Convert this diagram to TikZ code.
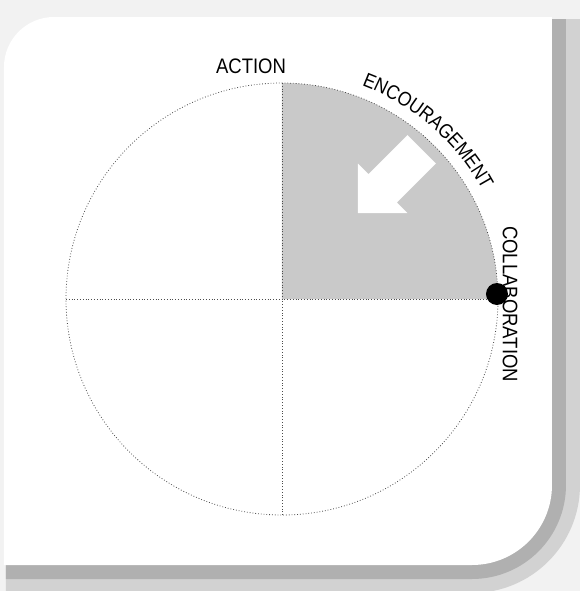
\documentclass[tikz,border=0pt]{standalone}
\usepackage{fontspec}
\setmainfont{Liberation Sans}[FakeStretch=0.88]
\usetikzlibrary{decorations.text}
\begin{document}
\begin{tikzpicture}[x=0.5pt, y=0.5pt,
  font=\fontsize{10.5}{12}\selectfont,
  guide/.style={black!70, line width=0.4pt, densely dotted},
  word/.style={inner sep=0pt, text=black}]
  \useasboundingbox (-282,-292) rectangle (298,299);
  \fill[gray!10] (-282,-292) rectangle (298,299);
  \foreach \d/\col in {28/gray!35, 14/gray!62}
    \fill[\col] (-276,-266-\d) -- (-276,230) arc[start angle=180, end angle=90, radius=50]
      -- (270+\d,280) -- (270+\d,-186) arc[start angle=0, end angle=-90, radius=80+\d] -- cycle;
  \fill[white] (-278,-266) -- (-278,232)
    arc[start angle=180, end angle=90, radius=50] -- (270,282) -- (270,-186)
    arc[start angle=0, end angle=-90, radius=80] -- cycle;
  \fill[gray!42] (0,0) -- (0,216) arc[start angle=90, end angle=0, radius=216] -- cycle;
  \fill[white, shift={(76,86)}, rotate=45] (0,0) -- (35,-35) -- (35,-20) -- (90,-20)
    -- (90,20) -- (35,20) -- (35,35) -- cycle;
  \draw[guide] (0,0) circle[radius=216];
  \draw[guide] (-216,0) -- (216,0);
  \draw[guide] (0,-216) -- (0,216);
  \node[word] (action) at (-31,233) {ACTION};
  \path[decorate, decoration={text along path, text={ENCOURAGEMENT}, text align=center}]
    (75:228) arc[start angle=75, end angle=23, radius=228];
  \node[word, rotate=-90] (collab) at (228,-5) {COLLABORATION};
  \node[circle, fill=black, minimum size=11pt, inner sep=0pt] (dot) at (215,5) {};
\end{tikzpicture}
\end{document}
